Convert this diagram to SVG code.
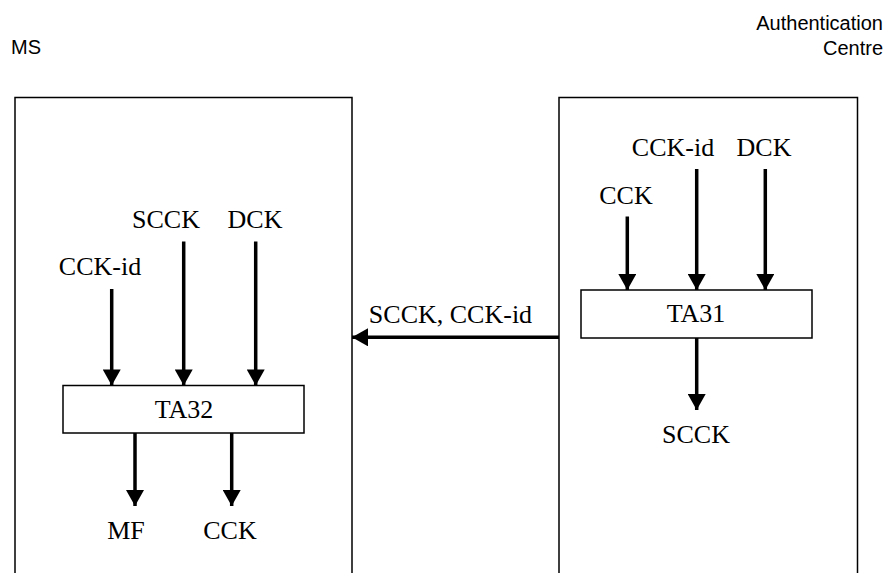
<svg xmlns="http://www.w3.org/2000/svg" width="887" height="573" viewBox="0 0 887 573">
<defs>
<marker id="ah" markerUnits="userSpaceOnUse" markerWidth="18" markerHeight="18" viewBox="0 0 16 18" refX="16" refY="9" orient="auto">
<path d="M0,0 L16,9 L0,18 Z" fill="#000"/>
</marker>
</defs>
<style>
.frame{fill:none;stroke:#000;stroke-width:1.5}
.blk{fill:#fff;stroke:#000;stroke-width:1.5}
.t{font-size:26px;fill:#000;text-anchor:middle}
.s{font-size:20px;fill:#000}
.a{stroke:#000;stroke-width:3.5;fill:none;marker-end:url(#ah)}
</style>
<rect width="887" height="573" fill="#fff"/>
<g id="labels" font-family="'Liberation Sans', Arial, sans-serif">
<text class="s" x="11" y="54">MS</text>
<text class="s" x="883" y="30" text-anchor="end">Authentication</text>
<text class="s" x="883" y="55" text-anchor="end">Centre</text>
</g>
<g id="ms">
<path class="frame" d="M15,580 V97.5 H352 V580"/>
</g>
<g id="ac">
<path class="frame" d="M559,580 V97.5 H857.5 V580"/>
</g>
<g id="ta32" font-family="'Liberation Serif', 'Times New Roman', serif">
<rect class="blk" x="63" y="385.5" width="241" height="47.5"/>
<text class="t" x="184" y="418">TA32</text>
</g>
<g id="ta31" font-family="'Liberation Serif', 'Times New Roman', serif">
<rect class="blk" x="581" y="290" width="231" height="48"/>
<text class="t" x="696" y="322">TA31</text>
</g>
<g id="connectors">
<line class="a" x1="111.7" y1="289" x2="111.7" y2="385.5"/>
<line class="a" x1="183.7" y1="241.5" x2="183.7" y2="385.5"/>
<line class="a" x1="255.7" y1="241.5" x2="255.7" y2="385.5"/>
<line class="a" x1="135" y1="433" x2="135" y2="506"/>
<line class="a" x1="231.7" y1="433" x2="231.7" y2="506"/>
<line class="a" x1="627.3" y1="216.5" x2="627.3" y2="290"/>
<line class="a" x1="696.7" y1="169" x2="696.7" y2="290"/>
<line class="a" x1="765.3" y1="169" x2="765.3" y2="290"/>
<line class="a" x1="696.7" y1="338" x2="696.7" y2="410"/>
<line class="a" x1="559" y1="337.3" x2="352" y2="337.3"/>
</g>
<g id="texts" font-family="'Liberation Serif', 'Times New Roman', serif">
<text class="t" x="100" y="275">CCK-id</text>
<text class="t" x="166" y="227.5">SCCK</text>
<text class="t" x="255" y="227.5">DCK</text>
<text class="t" x="126" y="539">MF</text>
<text class="t" x="230" y="539">CCK</text>
<text class="t" x="626" y="204">CCK</text>
<text class="t" x="673" y="155.5">CCK-id</text>
<text class="t" x="764" y="155.5">DCK</text>
<text class="t" x="696" y="443">SCCK</text>
<text class="t" x="450.5" y="323">SCCK, CCK-id</text>
</g>
</svg>
